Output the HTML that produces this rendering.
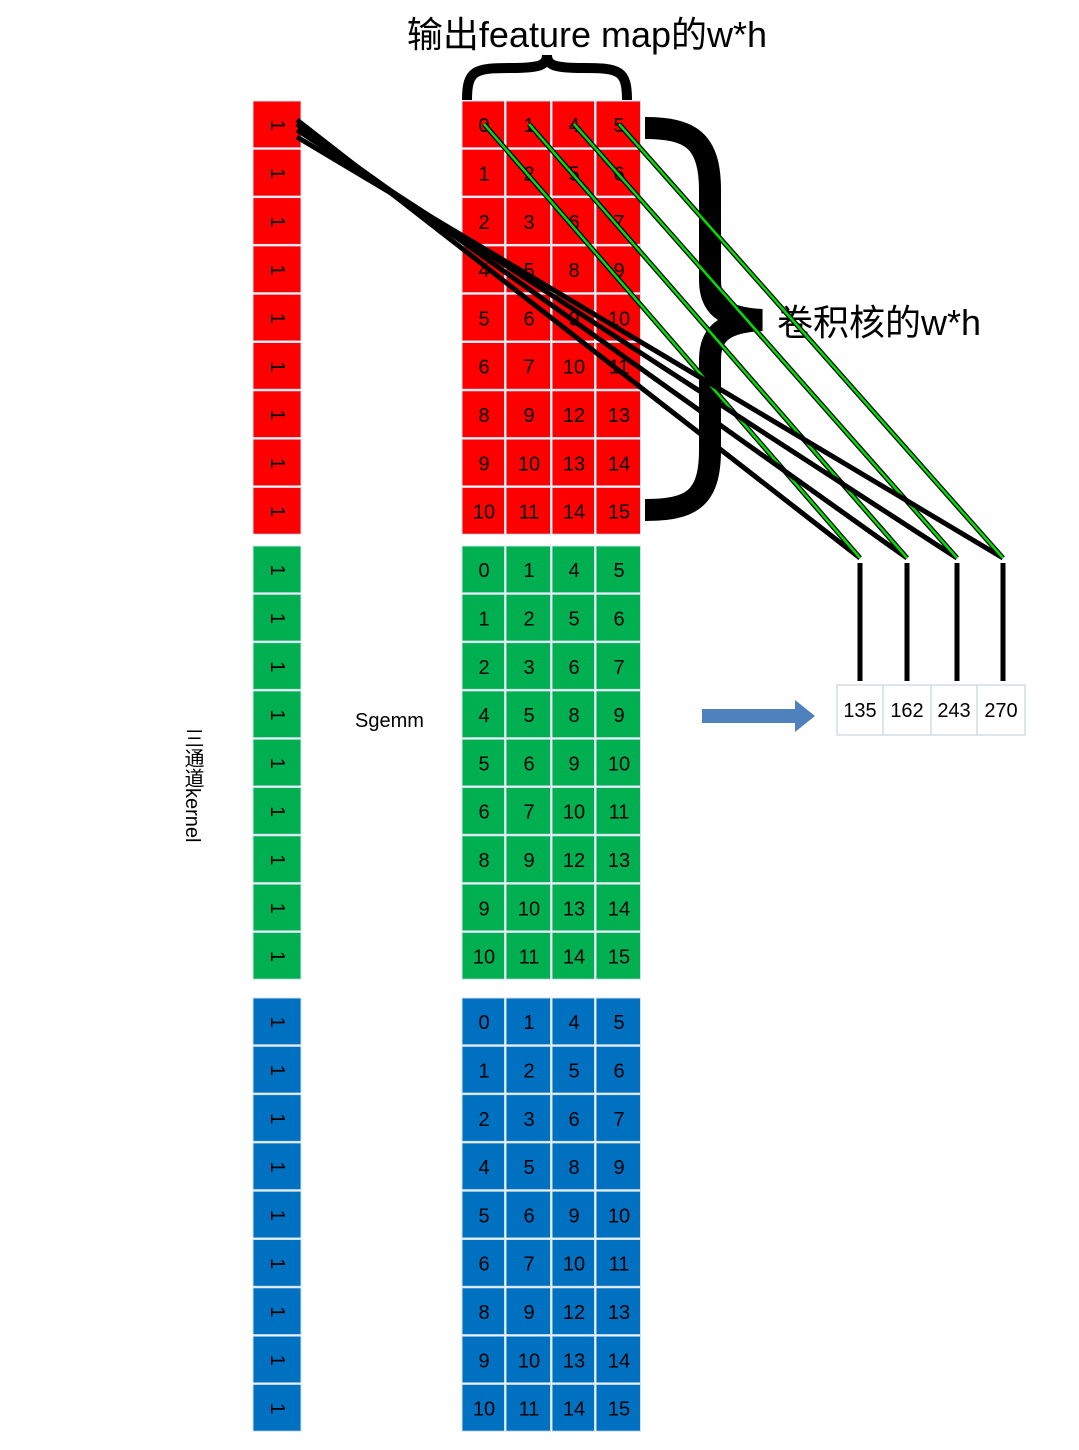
<!DOCTYPE html>
<html><head><meta charset="utf-8"><style>
html,body{margin:0;padding:0;background:#fff;}
svg{display:block;}
text{font-family:"Liberation Sans","Noto Sans CJK SC",sans-serif;}
</style></head><body>
<svg id="s" width="1079" height="1450" viewBox="0 0 1079 1450">
<text x="587" y="47" font-size="36" text-anchor="middle">输出feature map的w*h</text>
<path d="M467,100 C467,70 475,68 510,68 C538,68 547,66 547,55 C547,66 556,68 584,68 C619,68 627,70 627,100" fill="none" stroke="#000" stroke-width="10"/>
<path d="M645,128 C690,128 710,140 710,190 L710,280 C710,305 722,318 762,320 C722,322 710,335 710,360 L710,450 C710,500 690,510 645,510" fill="none" stroke="#000" stroke-width="22"/>
<text x="777" y="335" font-size="36">卷积核的w*h</text>
<text x="355" y="727" font-size="20">Sgemm</text>
<text x="192" y="728" font-size="20" style="writing-mode:vertical-rl">三通道kernel</text>
<g id="blocks"></g>
<g id="lines"></g>
<path d="M702,709 L795,709 L795,700 L815,716 L795,732 L795,723 L702,723 Z" fill="#4f81bd"/>
<g id="result"></g>
</svg>
<script>
const matrixRows = [[0,1,4,5],[1,2,5,6],[2,3,6,7],[4,5,8,9],[5,6,9,10],[6,7,10,11],[8,9,12,13],[9,10,13,14],[10,11,14,15]];
const kernelValues = [1,1,1,1,1,1,1,1,1];
const channelColors = ["#ff0000","#00b050","#0070c0"];
const resultValues = [135,162,243,270];
const NS="http://www.w3.org/2000/svg";
function mk(tag,attrs,parent){const e=document.createElementNS(NS,tag);for(const k in attrs)e.setAttribute(k,attrs[k]);parent.appendChild(e);return e;}
const tops=[101,546,998], rh=48.3;
const colX=[462,506,552,596,642];
const blocks=document.getElementById('blocks');
channelColors.forEach((c,ci)=>{
  kernelValues.forEach((v,r)=>{
    const y=tops[ci]+r*rh;
    const rc=mk('rect',{x:253,y:y,width:48,height:rh-1.5,fill:c,stroke:'#cfe0ee','stroke-width':1},blocks);
    
    
    const t=mk('text',{x:277,y:y+rh/2,'font-size':20,'text-anchor':'middle','dominant-baseline':'central',transform:`rotate(90 277 ${y+rh/2})`},blocks);
    t.textContent=v;
    
    
  });
  matrixRows.forEach((row,r)=>{
    const y=tops[ci]+r*rh;
    row.forEach((v,k)=>{
      const rc=mk('rect',{x:colX[k],y:y,width:colX[k+1]-colX[k]-1.5,height:rh-1.5,fill:c,stroke:'#cfe0ee','stroke-width':1},blocks);
      
      
      const t=mk('text',{x:(colX[k]+colX[k+1])/2,y:y+rh/2+7,'font-size':20,'text-anchor':'middle'},blocks);
      t.textContent=v;
      
      
    });
  });
});
const lines=document.getElementById('lines');
const ends=[860,907,957,1003];
const startY=[120,124,130,137];
ends.forEach((ex,i)=>{
  let l=mk('line',{x1:297,y1:startY[i],x2:ex,y2:558,stroke:'#000','stroke-width':5},lines);
  
  
  const gx=(colX[i]+colX[i+1])/2;
  l=mk('line',{x1:gx,y1:124,x2:ex,y2:558,stroke:'#000','stroke-width':5},lines);
  
  
  l=mk('line',{x1:gx,y1:124,x2:ex,y2:558,stroke:'#00e000','stroke-width':2.5},lines);
  
  
  l=mk('line',{x1:ex,y1:563,x2:ex,y2:681,stroke:'#000','stroke-width':5},lines);
  
  
});
const res=document.getElementById('result');
const rx=[837,883,931,977,1025];
resultValues.forEach((v,i)=>{
  const rc=mk('rect',{x:rx[i],y:685,width:rx[i+1]-rx[i],height:50,fill:'#fff',stroke:'#c8d4e0','stroke-width':1.2},res);
  
  
  const t=mk('text',{x:(rx[i]+rx[i+1])/2,y:717,'font-size':20,'text-anchor':'middle'},res);
  t.textContent=v;
  
  
});
</script>
</body></html>
